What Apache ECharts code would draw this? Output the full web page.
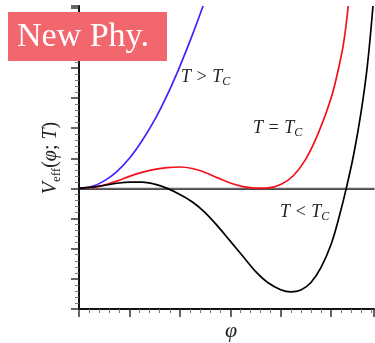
<!DOCTYPE html>
<html>
<head>
<meta charset="utf-8">
<script src="https://cdn.jsdelivr.net/npm/echarts@6/dist/echarts.min.js"></script>
<style>
  html, body { margin: 0; padding: 0; background: #fff; }
  #chart { width: 375px; height: 343px; }
</style>
</head>
<body>
<div id="chart"></div>
<script>
// curves, [phi, V] in major-tick units
var blueCurve = [
    [0, 0], [0.25, 0.06], [0.5, 0.25], [0.75, 0.56], [1.0, 1.0],
    [1.25, 1.58], [1.5, 2.27], [1.75, 3.1], [2.0, 4.05], [2.25, 5.1],
    [2.46, 6.05]
];
var redCurve = [
    [0, 0], [0.25, 0.03], [0.5, 0.11], [0.75, 0.24], [1.0, 0.4],
    [1.25, 0.53], [1.5, 0.63], [1.75, 0.69], [2.0, 0.71], [2.25, 0.66],
    [2.5, 0.53], [2.75, 0.35], [3.0, 0.18], [3.25, 0.06], [3.5, 0.01],
    [3.75, 0.02], [4.0, 0.13], [4.25, 0.42], [4.5, 0.98], [4.75, 1.85],
    [5.0, 3.0], [5.15, 4.0], [5.25, 4.85], [5.34, 6.05]
];
var blackCurve = [
    [0, 0], [0.25, 0.04], [0.5, 0.1], [0.75, 0.17], [1.0, 0.21],
    [1.25, 0.21], [1.5, 0.14], [1.75, 0], [2.0, -0.2], [2.25, -0.45],
    [2.5, -0.8], [2.75, -1.25], [3.0, -1.75], [3.25, -2.25], [3.5, -2.75],
    [3.75, -3.13], [4.0, -3.36], [4.2, -3.43], [4.4, -3.37], [4.6, -3.12],
    [4.8, -2.62], [5.0, -1.85], [5.15, -1.0], [5.3, 0], [5.45, 1.15],
    [5.6, 2.6], [5.72, 4.1], [5.83, 6.05]
];
var zeroLine = [[0, 0], [5.85, 0]];
var xRange = [0, 5.85];
var yRange = [-4, 6.05];

var curveLabels = ['T > T', 'T = T', 'T < T'];

var echart = echarts.init(document.getElementById('chart'));

var serif = 'Liberation Serif';

var mathText = function(txt, x, y) {
    return {
        type: 'text',
        x: x,
        y: y,
        z: 10,
        style: {
            text: '{m|' + txt + '}{c|C}',
            rich: {
                m: { fontFamily: serif, fontStyle: 'italic', fontSize: 18, lineHeight: 22, fill: '#222' },
                c: { fontFamily: serif, fontStyle: 'italic', fontSize: 12, lineHeight: 12, verticalAlign: 'bottom', fill: '#222' }
            }
        }
    };
};

var curveSeries = function(name, data, color) {
    return {
        name: name,
        type: 'line',
        data: data,
        smooth: 0.35,
        showSymbol: false,
        clip: true,
        lineStyle: { color: color, width: 1.7 },
        z: 3
    };
};

option = {
    backgroundColor: '#fff',
    animation: false,
    grid: { left: 79, right: 1, top: 6, bottom: 34 },
    xAxis: [{
        type: 'value',
        min: xRange[0],
        max: xRange[1],
        interval: 1,
        axisLine: { onZero: false, lineStyle: { color: '#111', width: 2 } },
        axisTick: { inside: false, length: 8, lineStyle: { color: '#333', width: 1.5 } },
        minorTick: { show: true, splitNumber: 5, length: 4, lineStyle: { color: '#777', width: 1 } },
        axisLabel: { show: false },
        splitLine: { show: false }
    }, {
        type: 'value',
        position: 'top',
        min: xRange[0],
        max: xRange[1],
        axisLine: { show: true, lineStyle: { color: '#111', width: 1.5 } },
        axisTick: { show: false },
        axisLabel: { show: false },
        splitLine: { show: false }
    }],
    yAxis: {
        type: 'value',
        min: yRange[0],
        max: yRange[1],
        interval: 1,
        axisLine: { show: true, onZero: false, lineStyle: { color: '#111', width: 2 } },
        axisTick: { inside: false, length: 8, lineStyle: { color: '#333', width: 1.5 } },
        minorTick: { show: true, splitNumber: 5, length: 4, lineStyle: { color: '#777', width: 1 } },
        axisLabel: { show: false },
        splitLine: { show: false }
    },
    series: [
        {
            name: 'zero',
            type: 'line',
            data: zeroLine,
            showSymbol: false,
            lineStyle: { color: '#666', width: 1.3 },
            z: 2
        },
        curveSeries('T > Tc', blueCurve, '#4a1eff'),
        curveSeries('T = Tc', redCurve, '#f5101c'),
        curveSeries('T < Tc', blackCurve, '#000')
    ],
    graphic: [
        mathText(curveLabels[0], 181, 66),
        mathText(curveLabels[1], 253, 117),
        mathText(curveLabels[2], 280, 201),
        {
            type: 'text',
            x: 51,
            y: 158,
            rotation: Math.PI / 2,
            z: 10,
            style: {
                text: '{v|V}{s|eff}{p|(}{i|φ}{p|; }{i|T}{p|)}',
                align: 'center',
                verticalAlign: 'middle',
                rich: {
                    v: { fontFamily: serif, fontStyle: 'italic', fontSize: 20, lineHeight: 24, fill: '#222' },
                    s: { fontFamily: serif, fontSize: 13, lineHeight: 13, verticalAlign: 'bottom', fill: '#222' },
                    p: { fontFamily: serif, fontSize: 20, lineHeight: 24, fill: '#222' },
                    i: { fontFamily: serif, fontStyle: 'italic', fontSize: 20, lineHeight: 24, fill: '#222' }
                }
            }
        },
        {
            type: 'text',
            x: 231,
            y: 331,
            z: 10,
            style: {
                text: 'φ',
                align: 'center',
                verticalAlign: 'middle',
                fontFamily: serif,
                fontStyle: 'italic',
                fontSize: 22,
                fill: '#222'
            }
        },
        {
            type: 'rect',
            z: 20,
            shape: { x: 8, y: 12, width: 159, height: 49 },
            style: { fill: '#f2666e' }
        },
        {
            type: 'text',
            x: 17,
            y: 37,
            z: 21,
            style: {
                text: 'New Phy.',
                verticalAlign: 'middle',
                fontFamily: serif,
                fontSize: 34,
                fill: '#fff'
            }
        }
    ]
};

echart.setOption(option);
</script>
</body>
</html>
